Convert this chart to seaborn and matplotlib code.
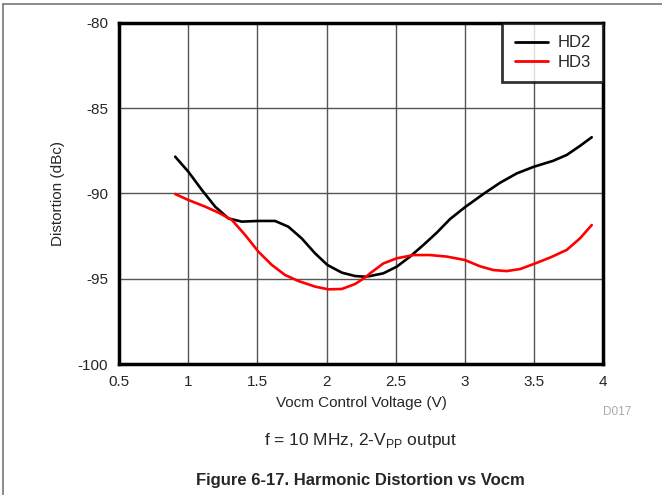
import numpy as np
import pandas as pd
import matplotlib.pyplot as plt
import seaborn as sns
from matplotlib.lines import Line2D

# values
hd2_v = [0.905, 1.0, 1.098, 1.194, 1.29, 1.387, 1.507, 1.628, 1.724, 1.82, 1.917,
         2.006, 2.11, 2.206, 2.28, 2.315, 2.411, 2.508, 2.604, 2.70, 2.797, 2.893,
         3.0, 3.134, 3.255, 3.376, 3.5, 3.64, 3.737, 3.833, 3.918]
hd2_db = [-87.84, -88.72, -89.79, -90.77, -91.46, -91.65, -91.61, -91.61, -91.95,
          -92.63, -93.51, -94.19, -94.64, -94.84, -94.88, -94.84, -94.68, -94.29,
          -93.7, -93.02, -92.3, -91.5, -90.81, -90.03, -89.37, -88.82, -88.43,
          -88.08, -87.74, -87.21, -86.7]
hd3_v = [0.905, 1.0, 1.122, 1.218, 1.315, 1.411, 1.507, 1.604, 1.70, 1.796, 1.917,
         2.013, 2.11, 2.206, 2.28, 2.315, 2.411, 2.508, 2.628, 2.749, 2.87, 3.0,
         3.11, 3.207, 3.303, 3.40, 3.5, 3.616, 3.737, 3.833, 3.918]
hd3_db = [-90.03, -90.38, -90.77, -91.12, -91.55, -92.43, -93.41, -94.19, -94.78,
          -95.13, -95.46, -95.62, -95.6, -95.31, -94.92, -94.68, -94.1, -93.8,
          -93.61, -93.61, -93.7, -93.9, -94.27, -94.49, -94.55, -94.43, -94.13,
          -93.76, -93.31, -92.63, -91.85]

x_ticks = [0.5, 1, 1.5, 2, 2.5, 3, 3.5, 4]
x_tick_labels = ["0.5", "1", "1.5", "2", "2.5", "3", "3.5", "4"]
y_ticks = [-100, -95, -90, -85, -80]
series = ["HD2", "HD3"]
colors = {"HD2": "black", "HD3": "#ff0000"}

df = pd.concat([
    pd.DataFrame({"v": hd2_v, "db": hd2_db, "series": "HD2"}),
    pd.DataFrame({"v": hd3_v, "db": hd3_db, "series": "HD3"}),
])

sns.set_style("white")
plt.rcParams["font.family"] = ["Liberation Sans", "DejaVu Sans"]
plt.rcParams["axes.unicode_minus"] = False

fig = plt.figure(figsize=(6.62, 4.95), dpi=100)
ax = fig.add_axes([0.18, 0.2646, 0.731, 0.689])

sns.lineplot(data=df, x="v", y="db", hue="series", palette=colors, linewidth=1.9,
             estimator=None, sort=False, ax=ax, legend=False)

ax.set_xlim(0.5, 4)
ax.set_ylim(-100, -80)
ax.set_xticks(x_ticks)
ax.set_xticklabels(x_tick_labels)
ax.set_yticks(y_ticks)
ax.grid(True, color="#555555", linewidth=1)
ax.tick_params(axis="both", labelsize=11, length=6, color="#777777", width=1,
               direction="out", pad=2)
for s in ax.spines.values():
    s.set_color("black")
    s.set_linewidth(2.5)

ax.set_xlabel("Vocm Control Voltage (V)", fontsize=11, labelpad=5)
ax.set_ylabel("Distortion (dBc)", fontsize=11, labelpad=9)

handles = [Line2D([], [], color=colors[s], linewidth=2) for s in series]
leg = ax.legend(handles, series, loc="upper right", fontsize=12, frameon=True,
                fancybox=False, borderaxespad=0, handlelength=2.0, handletextpad=0.55,
                borderpad=0.75, labelspacing=0.25)
leg.get_frame().set_edgecolor("black")
leg.get_frame().set_linewidth(2)

fig.text(0.932, 0.162, "D017", fontsize=8.5, color="#aaaaaa", ha="center")
fig.text(0.545, 0.1, "f = 10 MHz, 2-V$_{\\mathregular{PP}}$ output", fontsize=12.5,
         ha="center")
fig.text(0.545, 0.02, "Figure 6-17. Harmonic Distortion vs Vocm", fontsize=12,
         ha="center", fontweight="bold")

# page frame lines
fig.add_artist(Line2D([0.005, 0.005], [0, 0.992], color="#777777", linewidth=1.2))
fig.add_artist(Line2D([0.005, 1], [0.992, 0.992], color="#777777", linewidth=1.2))

fig.savefig("out.png", dpi=100)
